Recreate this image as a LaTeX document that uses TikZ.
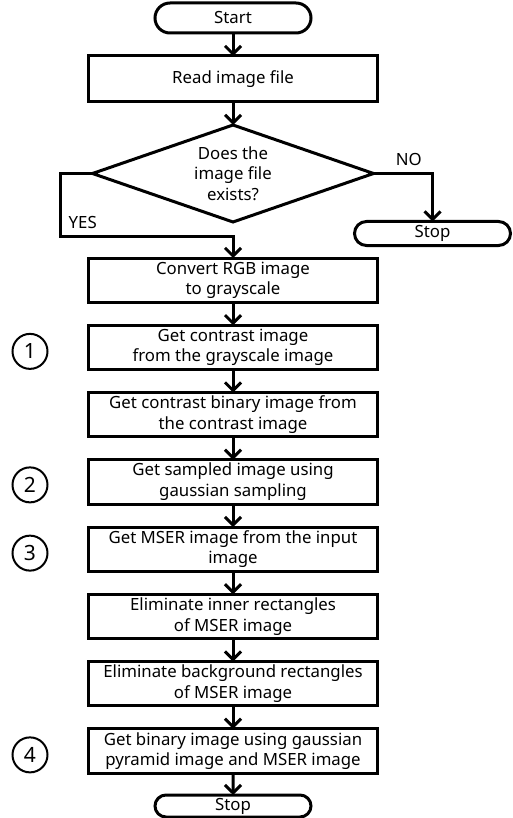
\documentclass[tikz,border=0pt]{standalone}
\usepackage{fontspec}
\setmainfont{Noto Sans}
\usetikzlibrary{positioning,shapes.geometric,shapes.misc,arrows.meta}

\begin{document}
\begin{tikzpicture}[x=1pt, y=1pt, node distance=23pt,
	font=\fontsize{16.8}{20.5}\selectfont,
	box/.style={draw, line width=3pt, outer sep=0pt, minimum width=289pt, minimum height=44.25pt, inner sep=1pt, align=center},
	term/.style={draw, rounded rectangle, line width=3pt, outer sep=0pt, minimum width=156pt, minimum height=28pt, inner sep=0pt},
	decision/.style={draw, diamond, line width=3pt, outer sep=0pt, aspect=2.9, minimum width=281pt, minimum height=97pt, inner sep=0pt, align=center},
	num/.style={draw, circle, line width=2pt, minimum size=35pt, inner sep=0pt, font=\fontsize{21}{21}\selectfont},
	arr/.style={line width=3pt, -{Straight Barb[length=8pt,width=16pt]}}]
\useasboundingbox (0,0) rectangle (512,-818);

\node[term, minimum height=30pt] (start) at (233,-18) {Start};
\node[box, minimum height=46pt, below=of start] (read) {Read image file};
\node[decision, below=of read] (exists) {Does the\\image file\\exists?};
\node[term, minimum height=24pt, anchor=north] (stopno) at ([xshift=59pt, yshift=-48pt]exists.east) {Stop};
\node[box, below=36pt of exists] (convert) {Convert RGB image\\to grayscale};
\node[box, below=of convert] (contrast) {Get contrast image\\from the grayscale image};
\node[box, below=of contrast] (binary) {Get contrast binary image from\\the contrast image};
\node[box, below=of binary] (sampled) {Get sampled image using\\gaussian sampling};
\node[box, below=of sampled] (mser) {Get MSER image from the input\\image};
\node[box, below=of mser] (inner) {Eliminate inner rectangles\\of MSER image};
\node[box, below=of inner] (backgr) {Eliminate background rectangles\\of MSER image};
\node[box, below=of backgr] (pyramid) {Get binary image using gaussian\\pyramid image and MSER image};
\node[term, minimum height=22pt, below=22pt of pyramid] (stop) {Stop};

\coordinate (marks) at (30,0);
\node[num] (one) at ([yshift=-4pt]contrast.center -| marks) {1};
\node[num] (two) at ([yshift=-3pt]sampled.center -| marks) {2};
\node[num] (three) at ([yshift=-4pt]mser.center -| marks) {3};
\node[num] (four) at ([yshift=-4pt]pyramid.center -| marks) {4};

\draw[arr] (start) -- (read);
\draw[arr] (read) -- (exists);
\draw[arr] (exists.east) -| node[above, pos=0.3, inner sep=6pt] {NO} (stopno.north);
\draw[arr] (exists.west) -- ++(-32pt,0) |- coordinate (yes) ([yshift=22pt]convert.north) -- (convert.north);
\node[anchor=south west, inner sep=0pt] at ([xshift=8pt, yshift=7pt]yes) {YES};
\draw[arr] (convert) -- (contrast);
\draw[arr] (contrast) -- (binary);
\draw[arr] (binary) -- (sampled);
\draw[arr] (sampled) -- (mser);
\draw[arr] (mser) -- (inner);
\draw[arr] (inner) -- (backgr);
\draw[arr] (backgr) -- (pyramid);
\draw[arr] (pyramid) -- (stop);
\end{tikzpicture}
\end{document}
